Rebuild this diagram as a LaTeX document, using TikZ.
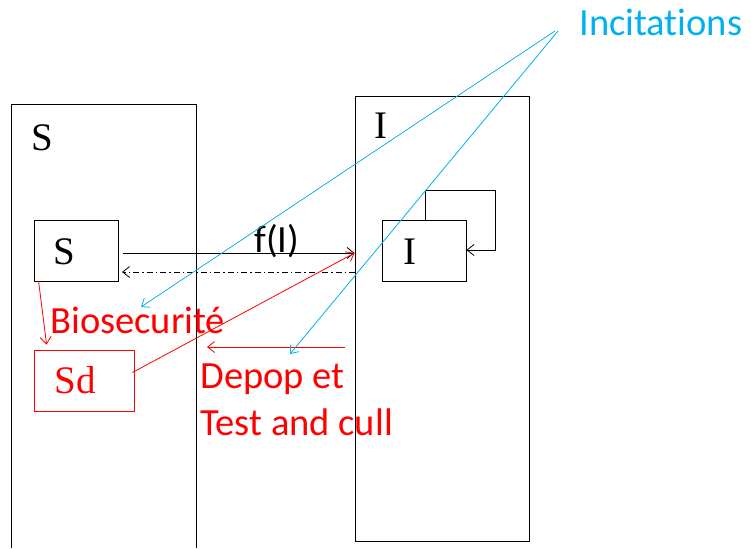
\documentclass[tikz,border=0pt]{standalone}
\usepackage{fontspec}
\setmainfont{Liberation Serif}
\newfontfamily\calib[Ligatures=NoCommon]{Carlito}
\usetikzlibrary{arrows.meta,calc}
\definecolor{pblue}{RGB}{0,176,240}
\definecolor{pred}{RGB}{255,0,0}
\begin{document}
\begin{tikzpicture}[x=1pt,y=-1pt,
  line width=0.8pt,
  tip/.style={-{Straight Barb[length=7pt,width=11pt,line width=0.8pt]}},
  smallbox/.style={draw, inner sep=0pt, minimum width=84pt, minimum height=61pt},
  serlabel/.style={inner sep=0pt, anchor=base, font=\fontsize{39}{42}\selectfont},
  sanslabel/.style={inner sep=0pt, anchor=base west, font=\calib\fontsize{38.5}{42}\selectfont},
]
\useasboundingbox (0,0) rectangle (751,548);
% big compartments
\draw (11,548) |- (196,104) -- (196,548);
\node[draw, minimum width=174pt, minimum height=445pt, inner sep=0pt] (bigI) at (442,318.5) {};
\node[serlabel] (lS) at (42,150) {S};
\node[serlabel] (lI) at (381,139) {I};
% small boxes
\node[smallbox] (sS) at (76,250.5) {};
\node[smallbox] (sI) at (424,250.5) {};
\node[smallbox, draw=pred, minimum width=100pt] (sSd) at (84,380.5) {};
\node[serlabel] (tS) at (64.5,264.5) {S};
\node[serlabel] (tI) at (410,264.5) {I};
\node[serlabel, text=pred] (tSd) at (75,393) {Sd};
% coordinates
\coordinate (fa) at (123,253);
\coordinate (fb) at (bigI.west |- fa);
\coordinate (da) at (355,272);
\coordinate (db) at (122,272);
% f(I)
\draw[tip] (fa) -- (fb);
\node[sanslabel] (fI) at (254,252) {f(I)};
\draw[tip, dash pattern=on 6pt off 3pt on 1.5pt off 3pt] (da) -- (db);
% self loop
\coordinate (l1) at (425,190);
\coordinate (l2) at (495,250);
\draw[tip] (sI.north -| l1) -- (l1) -| (l2) -- (sI.east |- l2);
% red arrows
\draw[tip, pred] ($(sS.south west)+(5,0)$) -- ($(sSd.north west)+(13,-5)$);
\draw[tip, pred] ($(sSd.east)+(-2,-8)$) -- (fb);
\coordinate (ra) at (345,347);
\coordinate (rb) at (207,347);
\draw[tip, pred] (ra) -- (rb);
\node[sanslabel, text=pred] (bio) at (50,333) {Biosecurité};
\node[sanslabel, text=pred] (dep) at (200,388) {Depop et};
\node[sanslabel, text=pred] (tac) at (200,435) {Test and cull};
% incitations
\node[sanslabel, text=pblue] (inc) at (579,36) {Incitations};
\coordinate (i1) at (555,31);
\coordinate (i2) at (558,31);
\draw[tip, pblue] (i1) -- (141,307);
\draw[tip, pblue] (i2) -- (290,354);
\end{tikzpicture}
\end{document}
